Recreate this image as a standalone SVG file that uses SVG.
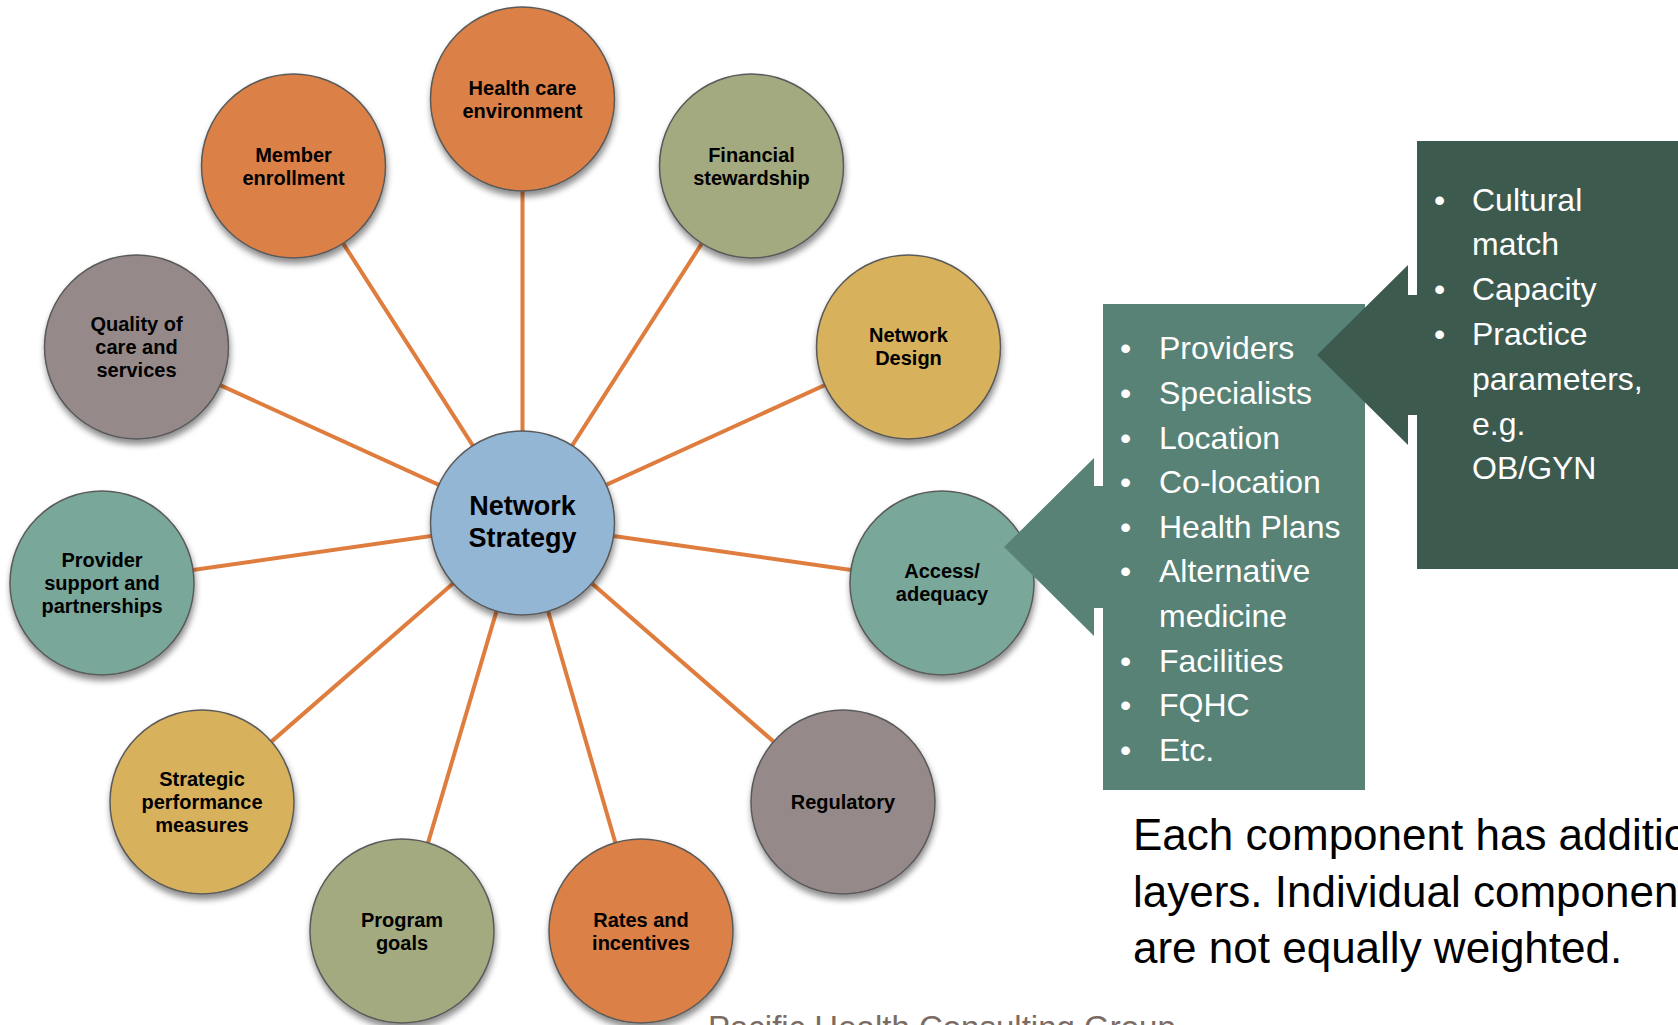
<svg xmlns="http://www.w3.org/2000/svg" width="1678" height="1025" viewBox="0 0 1678 1025">
  <defs>
    <filter id="shadow" x="-20%" y="-20%" width="140%" height="150%">
      <feDropShadow dx="1" dy="5" stdDeviation="3" flood-color="#000" flood-opacity="0.45"/>
    </filter>
    <style>
      .node ellipse { stroke: #5a5a5a; stroke-width: 1.5; filter: url(#shadow); }
      .orange { fill: #DB8046; }
      .olive { fill: #A3AA7F; }
      .mauve { fill: #958A89; }
      .gold { fill: #D8B15C; }
      .teal { fill: #79A79A; }
      .blue { fill: #94B6D5; }
      .lbl { font-family: "Liberation Sans", Arial, sans-serif; font-weight: bold; font-size: 20px; fill: #000; text-anchor: middle; }
      .ctr { font-family: "Liberation Sans", Arial, sans-serif; font-weight: bold; font-size: 27px; fill: #000; text-anchor: middle; }
      .conn line { stroke: #DF7D3E; stroke-width: 4; }
      .box { font-family: "Liberation Sans", Arial, sans-serif; font-size: 32px; fill: #FFFFFF; }
      .note { font-family: "Liberation Sans", Arial, sans-serif; font-size: 44px; fill: #000; }
      .foot { font-family: "Liberation Sans", Arial, sans-serif; font-size: 33px; fill: #7B6B65; }
    </style>
  </defs>
  <rect width="1678" height="1025" fill="#FFFFFF"/>

  <g id="connectors" class="conn">
    <line x1="522.5" y1="523" x2="522.5" y2="99"/>
    <line x1="522.5" y1="523" x2="293.5" y2="166"/>
    <line x1="522.5" y1="523" x2="751.5" y2="166"/>
    <line x1="522.5" y1="523" x2="136.5" y2="347"/>
    <line x1="522.5" y1="523" x2="908.5" y2="347"/>
    <line x1="522.5" y1="523" x2="102" y2="583"/>
    <line x1="522.5" y1="523" x2="942" y2="583"/>
    <line x1="522.5" y1="523" x2="202" y2="802"/>
    <line x1="522.5" y1="523" x2="843" y2="802"/>
    <line x1="522.5" y1="523" x2="402" y2="931"/>
    <line x1="522.5" y1="523" x2="641" y2="931"/>
  </g>

  <g id="node-health-care" class="node">
    <ellipse class="orange" cx="522.5" cy="99" rx="92" ry="92"/>
    <text class="lbl" x="522.5" y="95">Health care</text>
    <text class="lbl" x="522.5" y="118">environment</text>
  </g>
  <g id="node-member" class="node">
    <ellipse class="orange" cx="293.5" cy="166" rx="92" ry="92"/>
    <text class="lbl" x="293.5" y="162">Member</text>
    <text class="lbl" x="293.5" y="185">enrollment</text>
  </g>
  <g id="node-financial" class="node">
    <ellipse class="olive" cx="751.5" cy="166" rx="92" ry="92"/>
    <text class="lbl" x="751.5" y="162">Financial</text>
    <text class="lbl" x="751.5" y="185">stewardship</text>
  </g>
  <g id="node-quality" class="node">
    <ellipse class="mauve" cx="136.5" cy="347" rx="92" ry="92"/>
    <text class="lbl" x="136.5" y="331">Quality of</text>
    <text class="lbl" x="136.5" y="354">care and</text>
    <text class="lbl" x="136.5" y="377">services</text>
  </g>
  <g id="node-network-design" class="node">
    <ellipse class="gold" cx="908.5" cy="347" rx="92" ry="92"/>
    <text class="lbl" x="908.5" y="342">Network</text>
    <text class="lbl" x="908.5" y="365">Design</text>
  </g>
  <g id="node-provider" class="node">
    <ellipse class="teal" cx="102" cy="583" rx="92" ry="92"/>
    <text class="lbl" x="102" y="567">Provider</text>
    <text class="lbl" x="102" y="590">support and</text>
    <text class="lbl" x="102" y="613">partnerships</text>
  </g>
  <g id="node-access" class="node">
    <ellipse class="teal" cx="942" cy="583" rx="92" ry="92"/>
    <text class="lbl" x="942" y="578">Access/</text>
    <text class="lbl" x="942" y="601">adequacy</text>
  </g>
  <g id="node-strategic" class="node">
    <ellipse class="gold" cx="202" cy="802" rx="92" ry="92"/>
    <text class="lbl" x="202" y="786">Strategic</text>
    <text class="lbl" x="202" y="809">performance</text>
    <text class="lbl" x="202" y="832">measures</text>
  </g>
  <g id="node-regulatory" class="node">
    <ellipse class="mauve" cx="843" cy="802" rx="92" ry="92"/>
    <text class="lbl" x="843" y="809">Regulatory</text>
  </g>
  <g id="node-program" class="node">
    <ellipse class="olive" cx="402" cy="931" rx="92" ry="92"/>
    <text class="lbl" x="402" y="927">Program</text>
    <text class="lbl" x="402" y="950">goals</text>
  </g>
  <g id="node-rates" class="node">
    <ellipse class="orange" cx="641" cy="931" rx="92" ry="92"/>
    <text class="lbl" x="641" y="927">Rates and</text>
    <text class="lbl" x="641" y="950">incentives</text>
  </g>
  <g id="node-center" class="node">
    <ellipse class="blue" cx="522.5" cy="523" rx="92" ry="92"/>
    <text class="ctr" x="522.5" y="515">Network</text>
    <text class="ctr" x="522.5" y="547">Strategy</text>
  </g>

  <g id="callout-access">
    <path d="M1103,304 H1365 V790 H1103 V608 H1094 V636 L1004,547 L1094,458 V486 H1103 Z" fill="#578275"/>
    <g class="box">
      <text x="1120" y="359">•</text><text x="1159" y="359">Providers</text>
      <text x="1120" y="404">•</text><text x="1159" y="404">Specialists</text>
      <text x="1120" y="449">•</text><text x="1159" y="449">Location</text>
      <text x="1120" y="493">•</text><text x="1159" y="493">Co-location</text>
      <text x="1120" y="538">•</text><text x="1159" y="538">Health Plans</text>
      <text x="1120" y="582">•</text><text x="1159" y="582">Alternative</text>
      <text x="1159" y="627">medicine</text>
      <text x="1120" y="672">•</text><text x="1159" y="672">Facilities</text>
      <text x="1120" y="716">•</text><text x="1159" y="716">FQHC</text>
      <text x="1120" y="761">•</text><text x="1159" y="761">Etc.</text>
    </g>
  </g>

  <g id="callout-providers">
    <path d="M1417,141 H1690 V569 H1417 V415 H1408 V445 L1317,355 L1408,265 V295 H1417 Z" fill="#3D5A4F"/>
    <g class="box">
      <text x="1434" y="211">•</text><text x="1472" y="211">Cultural</text>
      <text x="1472" y="255">match</text>
      <text x="1434" y="300">•</text><text x="1472" y="300">Capacity</text>
      <text x="1434" y="345">•</text><text x="1472" y="345">Practice</text>
      <text x="1472" y="390">parameters,</text>
      <text x="1472" y="435">e.g.</text>
      <text x="1472" y="479">OB/GYN</text>
    </g>
  </g>

  <g id="note">
    <text class="note" x="1133" y="850">Each component has additional</text>
    <text class="note" x="1133" y="907">layers. Individual components</text>
    <text class="note" x="1133" y="963">are not equally weighted.</text>
  </g>

  <text class="foot" x="708" y="1039">Pacific Health Consulting Group</text>
</svg>
